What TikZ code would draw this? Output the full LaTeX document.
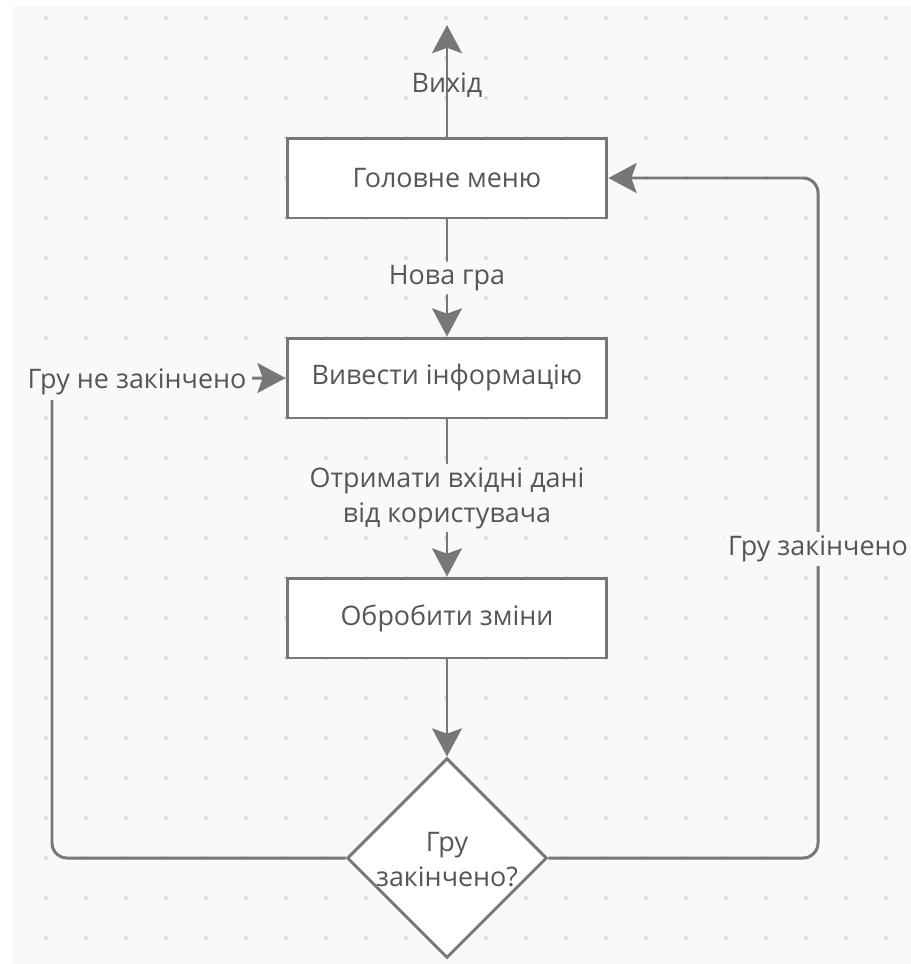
\documentclass[tikz,border=0pt]{standalone}
\usepackage{fontspec}
\setmainfont{Open Sans}
\usetikzlibrary{arrows.meta,shapes.geometric}

\definecolor{bgpaper}{HTML}{F9F9FB}
\definecolor{griddot}{HTML}{DCDCE0}
\definecolor{linegray}{HTML}{777777}
\definecolor{textgray}{HTML}{565656}

\tikzset{
  block/.style={draw=linegray, line width=1.7pt, fill=white, text=textgray,
    minimum width=6.4cm, minimum height=1.6cm},
  decision/.style={diamond, draw=linegray, line width=1.7pt, fill=white,
    minimum width=4cm, minimum height=4cm, inner sep=0pt},
  link/.style={draw=linegray, line width=1.7pt, rounded corners=0.3cm,
    -{Stealth[length=16pt,width=17pt,inset=3pt]}},
  lbl/.style={text=textgray, fill=bgpaper, inner sep=2pt, align=center},
}

\begin{document}
\begin{tikzpicture}[x=0.02cm,y=-0.02cm,font=\fontsize{15.3}{20}\selectfont]
  \useasboundingbox (0,0) rectangle (911,964);
  % Paper
  \fill[bgpaper] (12,6) rectangle (911,964);
  \foreach \x in {46,86,...,886} {
    \foreach \y in {18,58,...,938} {
      \fill[griddot] (\x,\y) circle (0.04cm);
    }
  }
  % Blocks
  \node[block] (menu) at (447,178) {Головне меню};
  \node[block] (info) at (447,378) {Вивести інформацію};
  \node[block] (proc) at (447,618) {Обробити зміни};
  \node[decision] (check) at (447,858) {};
  \node[text=textgray, align=center] (checktxt) at (447,860) {Гру\\закінчено?};
  % Bends
  \coordinate (exit) at (447,25);
  \coordinate (lbot) at (52,858);
  \coordinate (ltop) at (52,378);
  \coordinate (rbot) at (818,858);
  \coordinate (rtop) at (818,178);
  % Links
  \draw[link] (menu) -- (exit);
  \node[text=textgray] (exitlbl) at (447,85) {Вихід};
  \draw[link] (menu) -- (info) node[lbl, midway] {Нова гра};
  \draw[link] (info) -- (proc)
    node[lbl, midway] {Отримати вхідні дані\\від користувача};
  \draw[link] (proc) -- (check);
  \draw[link] (check.west) -- (lbot) -- (ltop) -- (info.west);
  \node[lbl, inner sep=3pt] (notdone) at (137,382) {Гру не закінчено};
  \draw[link] (check.east) -- (rbot) -- (rtop) -- (menu.east);
  \node[lbl] (done) at (818,549) {Гру закінчено};
\end{tikzpicture}
\end{document}
